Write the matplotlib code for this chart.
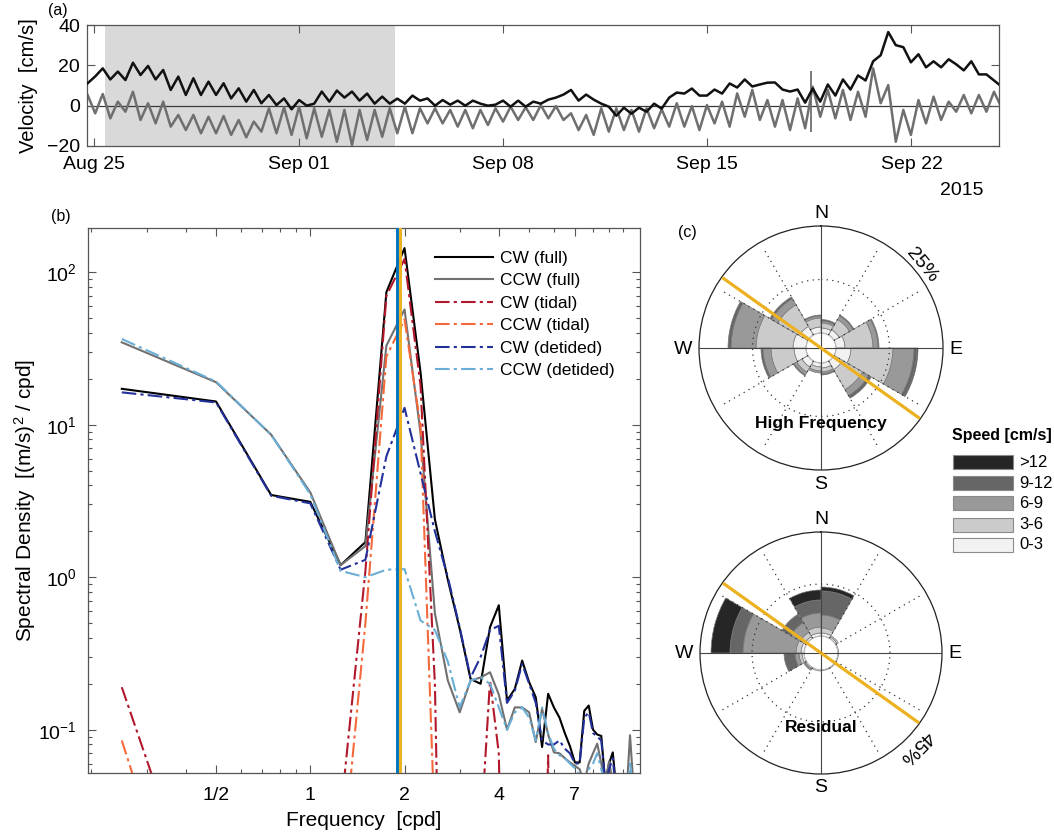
import numpy as np
import matplotlib
matplotlib.use("Agg")
import matplotlib.pyplot as plt
import matplotlib.dates as mdates
from matplotlib.patches import Rectangle
from matplotlib.ticker import (FixedLocator, FixedFormatter, LogLocator,
                               LogFormatterSciNotation, NullFormatter)
from datetime import datetime

plt.rcParams["font.family"] = ["Liberation Sans", "DejaVu Sans"]
plt.rcParams["mathtext.fontset"] = "custom"
plt.rcParams["mathtext.rm"] = "Liberation Sans"
plt.rcParams["mathtext.it"] = "Liberation Sans:italic"
plt.rcParams["mathtext.bf"] = "Liberation Sans:bold"

W, H = 1054, 834
AX_COL = "#555555"

# ---------------- (a) velocity record ----------------
START = datetime(2015, 8, 25)
T0 = -0.228       # first sample, days after Aug 25
STEP = 0.2588     # half an M2 period, days

vel_grey = [
    5.3, -3.8, 5.8, -6.3, 2.0, -3.0, 6.9, -7.1, 1.2, -8.8, 2.0, -10.4, -4.6, -12.1,
    -4.6, -13.7, -5.5, -13.7, -5.1, -14.5, -7.1, -15.7, -7.9, -12.9, -1.3, -13.7,
    -0.8, -14.5, -0.5, -16.2, -1.3, -15.4, -2.1, -17.9, -2.1, -19.5, -2.1, -17.0,
    -2.1, -15.4, -1.3,
    -13.7, -0.5, -13.7, -1.3, -8.8, -1.3, -8.8, -2.1, -10.4, -2.1, -11.2, -2.1,
    -9.6, -1.3, -7.9, -0.5, -7.1, -0.8, -7.1, 0.3, -6.3, -0.2, -7.1, -3.8, -12.1,
    -4.6, -14.5, -1.3, -12.9, -1.3, -12.1, -2.1, -12.9, -1.3, -11.2, -1.8, -10.4,
    1.2, -10.4, -0.2, -12.1,
    0.3, -8.8, 2.0, -10.4, 6.1, -5.5, 7.8, -7.1, 2.8, -10.4, 2.8, -12.1, 3.6,
    -11.2, 9.4, -5.5, 7.8, -6.3, 7.8, -7.1, 6.9, -5.5, 18.5, 1.2, 10.2, -17.9,
    -2.1, -14.5, 2.8, -8.8, 4.5, -7.1, 2.0, -3.0, 5.3, -3.8, 5.3, -3.0, 6.9, -1.0,
]
vel_black = [
    11.1, 14.5, 18.5, 13.0, 16.9, 12.7, 21.3, 15.2, 19.7, 13.0, 17.7, 7.8, 14.4,
    5.3, 13.6, 5.3, 11.9, 5.3, 11.1, 3.6, 8.6, 2.0, 7.8, 1.2, 5.3, 0.3, 3.6, -1.8,
    2.8, 0.0, 1.0, 7.0, 2.0, 7.5, 4.0, 7.0, 2.5, 6.0, 1.0, 4.5, 1.0,
    3.5, 1.0, 5.0, 2.5, 3.6, 0.0, 2.8, 0.5, 2.5, 0.0, 2.5, 1.0, 0.0, 0.5, 2.5,
    -0.5, 2.5, -0.5, 2.0, 1.0, 3.0, 4.0, 5.5, 7.8, 2.5, 5.5, 3.0, 1.0, -0.5, -5.0,
    -1.0, -4.0, -1.0, -3.0, 1.0, -1.5, 4.0, 6.5, 6.0, 8.5, 5.0,
    5.0, 8.0, 6.0, 11.0, 9.0, 13.0, 9.5, 10.5, 11.4, 11.5, 8.0, 7.0, 8.0, 1.5,
    8.5, 2.0, 10.5, 5.0, 13.0, 8.0, 15.0, 12.5, 22.0, 25.0, 36.5, 30.0, 29.0,
    21.5, 25.5, 19.0, 22.0, 19.0, 23.0, 20.5, 17.5, 22.0, 15.5, 15.5, 12.5, 9.5,
]
shade_days = (0.36, 10.31)
spike_day, spike_lo, spike_hi = 24.55, -13.0, 17.0
date_ticks = [datetime(2015, 8, 25), datetime(2015, 9, 1), datetime(2015, 9, 8),
              datetime(2015, 9, 15), datetime(2015, 9, 22)]
date_labels = ["Aug 25", "Sep 01", "Sep 08", "Sep 15", "Sep 22"]

# ---------------- (b) rotary spectra ----------------
freq = [0.25, 0.5, 0.75, 1.0, 1.25, 1.5, 1.75, 2.0, 2.25, 2.5, 2.75, 3.0, 3.25,
        3.5, 3.75, 4.0, 4.25, 4.5, 4.75, 5.0, 5.25, 5.5, 5.75, 6.0, 6.25, 6.5,
        6.75, 7.0, 7.25, 7.5, 7.75, 8.0, 8.25, 8.5, 8.75, 9.0, 9.25, 9.5, 9.75,
        10.0, 10.25, 10.5, 10.75, 11.0, 11.25]
cw_full = [17.2, 14.2, 3.46, 3.12, 1.2, 1.7, 74, 144, 22, 2.4, 0.96, 0.46, 0.215,
           0.20, 0.47, 0.655, 0.155, 0.185, 0.284, 0.205, 0.163, 0.077, 0.172,
           0.14, 0.12, 0.095, 0.078, 0.061, 0.061, 0.133, 0.144, 0.1, 0.093,
           0.091, 0.045, 0.06, 0.071, 0.04, 0.03, 0.03, 0.03, 0.03, 0.03, 0.03, 0.03]
ccw_full = [34.7, 19.0, 8.6, 3.6, 1.2, 1.6, 33, 57, 8.8, 0.58, 0.21, 0.13, 0.21,
            0.22, 0.238, 0.17, 0.1, 0.14, 0.14, 0.13, 0.083, 0.137, 0.093, 0.071,
            0.07, 0.065, 0.061, 0.058, 0.055, 0.045, 0.06, 0.07, 0.081, 0.06,
            0.045, 0.062, 0.045, 0.04, 0.045, 0.04, 0.04, 0.092, 0.045, 0.04, 0.04]
cw_tidal = [0.19, 0.003, 1e-4, 1e-4, 0.028, 1.1, 70, 122, 18, 0.2, 1e-5, 1e-5,
            1e-5, 0.02, 0.21, 0.07, 1e-4, 1e-5, 1e-5, 1e-5, 1e-5, 1e-3, 0.068,
            1e-4] + [1e-5] * 21
ccw_tidal = [0.085, 0.001, 1e-5, 1e-5, 0.01, 0.5, 28, 49, 9.8, 0.021] + [1e-5] * 35
cw_detided = [16.3, 14.0, 3.42, 3.05, 1.12, 1.3, 6.2, 12.9, 4.8, 2.0, 1.0, 0.47,
              0.22, 0.3, 0.45, 0.48, 0.15, 0.18, 0.27, 0.2, 0.15, 0.085, 0.08,
              0.08, 0.085, 0.075, 0.07, 0.06, 0.06, 0.12, 0.13, 0.095, 0.09,
              0.085, 0.045, 0.055, 0.065, 0.035, 0.03, 0.03, 0.03, 0.03, 0.03,
              0.03, 0.03]
ccw_detided = [36.5, 19.2, 8.6, 3.5, 1.1, 1.0, 1.12, 1.13, 0.52, 0.45, 0.28, 0.14,
               0.21, 0.22, 0.2, 0.14, 0.1, 0.13, 0.14, 0.12, 0.085, 0.14, 0.095,
               0.075, 0.068, 0.065, 0.06, 0.056, 0.05, 0.045, 0.055, 0.06, 0.07,
               0.055, 0.045, 0.05, 0.04, 0.035, 0.04, 0.035, 0.035, 0.06, 0.04,
               0.035, 0.035]
f_n2, f_m2 = 1.896, 1.94

# ---------------- (c) current roses ----------------
sector_start = [0, 30, 60, 90, 120, 150, 180, 210, 240, 270, 300, 330]
speed_labels = ["0-3", "3-6", "6-9", "9-12", ">12"]
speed_colours = ["#f2f2f2", "#cbcbcb", "#999999", "#666666", "#262626"]
hf_bins = [
    [1.17, 1.41, 2.11, 3.51, 2.34, 1.17, 0.94, 1.64, 2.81, 3.04, 2.34, 1.41],
    [1.17, 2.80, 6.54, 9.81, 5.37, 0.94, 0.93, 1.40, 5.37, 8.64, 5.84, 2.10],
    [0.47, 0.93, 1.17, 4.90, 1.64, 0.46, 0.47, 0.70, 1.87, 5.84, 1.64, 0.47],
    [0.35, 0.24, 0.23, 0.71, 0.70, 0.24, 0.00, 0.24, 0.47, 0.70, 0.46, 0.23],
    [0.00, 0.00, 0.00, 0.23, 0.00, 0.00, 0.00, 0.00, 0.00, 0.00, 0.00, 0.00],
]
res_bins = [
    [1.34, 0.70, 0.26, 0.26, 0.30, 0.30, 0.48, 0.48, 0.91, 1.34, 0.91, 1.34],
    [2.17, 0.64, 0.00, 0.00, 0.00, 0.00, 0.00, 0.43, 1.30, 2.17, 2.16, 2.60],
    [5.61, 0.00, 0.00, 0.00, 0.00, 0.00, 0.00, 0.43, 1.73, 22.90, 4.76, 6.05],
    [10.38, 0.00, 0.00, 0.00, 0.00, 0.00, 0.00, 0.00, 4.75, 5.62, 4.32, 5.62],
    [1.73, 0.00, 0.00, 0.00, 0.00, 0.00, 0.00, 0.00, 0.00, 8.21, 0.00, 4.32],
]
major_axis_deg = 305.5


def style_box(ax):
    for sp in ax.spines.values():
        sp.set_color(AX_COL)
        sp.set_linewidth(0.9)
    ax.tick_params(which="both", direction="in", top=True, right=True,
                   color=AX_COL, width=0.8, labelsize=14)


fig = plt.figure(figsize=(W / 100, H / 100), dpi=100)

# ---- panel (a)
ax_a = fig.add_axes([87 / W, 1 - 146 / H, 912 / W, 121 / H])
day0 = mdates.date2num(START)
t = day0 + T0 + STEP * np.arange(len(vel_black))
ax_a.axvspan(day0 + shade_days[0], day0 + shade_days[1], color="#d9d9d9", lw=0, zorder=0)
ax_a.axhline(0, color="#3a3a3a", lw=0.9, zorder=1)
ax_a.plot(t, vel_grey, color="#6f6f6f", lw=1.8, zorder=2)
ax_a.vlines(day0 + spike_day, spike_lo, spike_hi, color="#6f6f6f", lw=1.3, zorder=2)
ax_a.plot(t, vel_black, color="#111111", lw=1.8, zorder=3)
ax_a.set_xlim(day0 - 0.25, day0 + 31.0)
ax_a.set_ylim(-20, 40)
ax_a.set_yticks([-20, 0, 20, 40])
ax_a.set_xticks([mdates.date2num(d) for d in date_ticks])
ax_a.set_xticklabels(date_labels)
style_box(ax_a)
ax_a.tick_params(which="major", length=6)
ax_a.tick_params(axis="x", pad=7)
ax_a.tick_params(axis="y", pad=5)

# ---- panel (b)
ax_b = fig.add_axes([88 / W, 1 - 773 / H, 552 / W, 545 / H])
ax_b.set_xscale("log")
ax_b.set_yscale("log")
dashdot = (0, (7, 2, 1.5, 2))
spectra = [
    (cw_full, "#000000", "-", "CW (full)"),
    (ccw_full, "#707070", "-", "CCW (full)"),
    (cw_tidal, "#b2182b", dashdot, "CW (tidal)"),
    (ccw_tidal, "#f4693c", dashdot, "CCW (tidal)"),
    (cw_detided, "#22309a", dashdot, "CW (detided)"),
    (ccw_detided, "#6aaed6", dashdot, "CCW (detided)"),
]
for vals, col, ls, lab in spectra:
    ax_b.plot(freq, vals, color=col, ls=ls, lw=1.5, label=lab)
ax_b.axvline(f_n2, color="#0072BD", lw=2.1, zorder=4)
ax_b.axvline(f_m2, color="#EDB120", lw=2.1, zorder=4)
ax_b.set_xlim(0.195, 11.3)
ax_b.set_ylim(0.052, 195)
ax_b.xaxis.set_major_locator(FixedLocator([0.5, 1, 2, 4, 7]))
ax_b.xaxis.set_major_formatter(FixedFormatter(["1/2", "1", "2", "4", "7"]))
ax_b.xaxis.set_minor_locator(LogLocator(base=10, subs=np.arange(1, 10), numticks=20))
ax_b.xaxis.set_minor_formatter(NullFormatter())
ax_b.yaxis.set_major_locator(LogLocator(base=10, numticks=10))
ax_b.yaxis.set_major_formatter(LogFormatterSciNotation())
ax_b.yaxis.set_minor_locator(LogLocator(base=10, subs=np.arange(2, 10), numticks=20))
ax_b.yaxis.set_minor_formatter(NullFormatter())
style_box(ax_b)
ax_b.tick_params(which="major", length=6)
ax_b.tick_params(which="minor", length=3)
ax_b.tick_params(axis="x", pad=10)
ax_b.tick_params(axis="y", pad=8)
ax_b.legend(loc="upper left", bbox_to_anchor=(0.6286, 0.958), frameon=False,
            fontsize=12.5, handlelength=3.35, handletextpad=0.4, labelspacing=0.42,
            borderpad=0, borderaxespad=0)


# ---- panel (c)
def draw_rose(rect, bins, hole, rmax):
    ax = fig.add_axes(rect, projection="polar")
    ax.set_theta_zero_location("N")
    ax.set_theta_direction(-1)
    R = hole + rmax
    ax.set_ylim(0, R)
    ax.grid(False)
    ax.set_xticks([])
    ax.set_yticks([])
    ax.spines["polar"].set_color("#222222")
    ax.spines["polar"].set_linewidth(0.9)
    theta = np.deg2rad(np.array(sector_start) + 15)
    base = np.full(len(sector_start), float(hole))
    for vals, col in zip(bins, speed_colours):
        vals = np.asarray(vals, dtype=float)
        keep = vals > 0
        ax.bar(theta[keep], vals[keep], width=np.deg2rad(30), bottom=base[keep],
               color=col, edgecolor="#7a7a7a", linewidth=0.5, zorder=2)
        base = base + vals
    ring = np.linspace(0, 2 * np.pi, 361)
    ax.plot(ring, np.full(ring.size, hole), color="#bbbbbb", lw=0.8, zorder=3)
    ax.plot(ring, np.full(ring.size, hole + rmax / 2), color="#333333", lw=0.9,
            ls=(0, (1, 3.5)), zorder=3)
    for ang in [30, 60, 120, 150, 210, 240, 300, 330]:
        a = np.deg2rad(ang)
        ax.plot([a, a], [hole, 0.95 * R], color="#333333", lw=0.9,
                ls=(0, (1, 3.5)), zorder=3)
    for ang in [0, 90, 180, 270]:
        a = np.deg2rad(ang)
        ax.plot([a, a], [0, R], color="#444444", lw=0.8, zorder=3)
    for ang in [major_axis_deg, major_axis_deg - 180]:
        a = np.deg2rad(ang)
        ax.plot([a, a], [0, 0.995 * R], color="#EDB120", lw=2.3,
                solid_capstyle="butt", zorder=4)
    return ax


draw_rose([699 / W, 1 - 470 / H, 244 / W, 244 / H], hf_bins, 3.5, 25)
draw_rose([700 / W, 1 - 774 / H, 242 / W, 242 / H], res_bins, 7.3, 45)

# ---- overlay texts in pixel coordinates
ov = fig.add_axes([0, 0, 1, 1], zorder=10)
ov.set_xlim(0, W)
ov.set_ylim(H, 0)
ov.axis("off")

ov.text(58, 10, "(a)", fontsize=11.5, ha="center", va="center")
ov.text(61, 216, "(b)", fontsize=11.5, ha="center", va="center")
ov.text(687, 232, "(c)", fontsize=11.5, ha="center", va="center")
ov.text(28, 86, "Velocity  [cm/s]", fontsize=14.5, rotation=90, ha="center", va="center")
ov.text(962, 190, "2015", fontsize=14, ha="center", va="center")
ov.text(25, 500, "Spectral Density  [(m/s)$^2$ / cpd]", fontsize=15, rotation=90,
        ha="center", va="center")
ov.text(364, 820, "Frequency  [cpd]", fontsize=15, ha="center", va="center")

for cx, cy, r in [(821, 348, 122), (821, 653, 121)]:
    ov.text(cx, cy - r - 13, "N", fontsize=14, ha="center", va="center")
    ov.text(cx, cy + r + 14, "S", fontsize=14, ha="center", va="center")
    ov.text(cx - r - 16, cy + 1, "W", fontsize=14, ha="center", va="center")
    ov.text(cx + r + 13, cy + 1, "E", fontsize=14, ha="center", va="center")
ov.text(821, 423, "High Frequency", fontsize=12.5, fontweight="bold", ha="center", va="center")
ov.text(821, 727, "Residual", fontsize=12.5, fontweight="bold", ha="center", va="center")
ov.text(922, 265, "25%", fontsize=14, rotation=-50.6, ha="center", va="center",
        rotation_mode="anchor")
ov.text(916, 747, "45%", fontsize=14, rotation=-134.7, ha="center", va="center",
        rotation_mode="anchor")

ov.text(952, 435, "Speed [cm/s]", fontsize=11.5, fontweight="bold", ha="left", va="center")
row_y = [462, 483, 503, 524.5, 544.5]
for yc, lab, col in zip(row_y, speed_labels[::-1], speed_colours[::-1]):
    ov.add_patch(Rectangle((953, yc - 7), 60, 14, facecolor=col, edgecolor="#8a8a8a", lw=0.8))
    ov.text(1019, yc, lab, fontsize=12, ha="left", va="center")

fig.savefig("out.png", dpi=100)
